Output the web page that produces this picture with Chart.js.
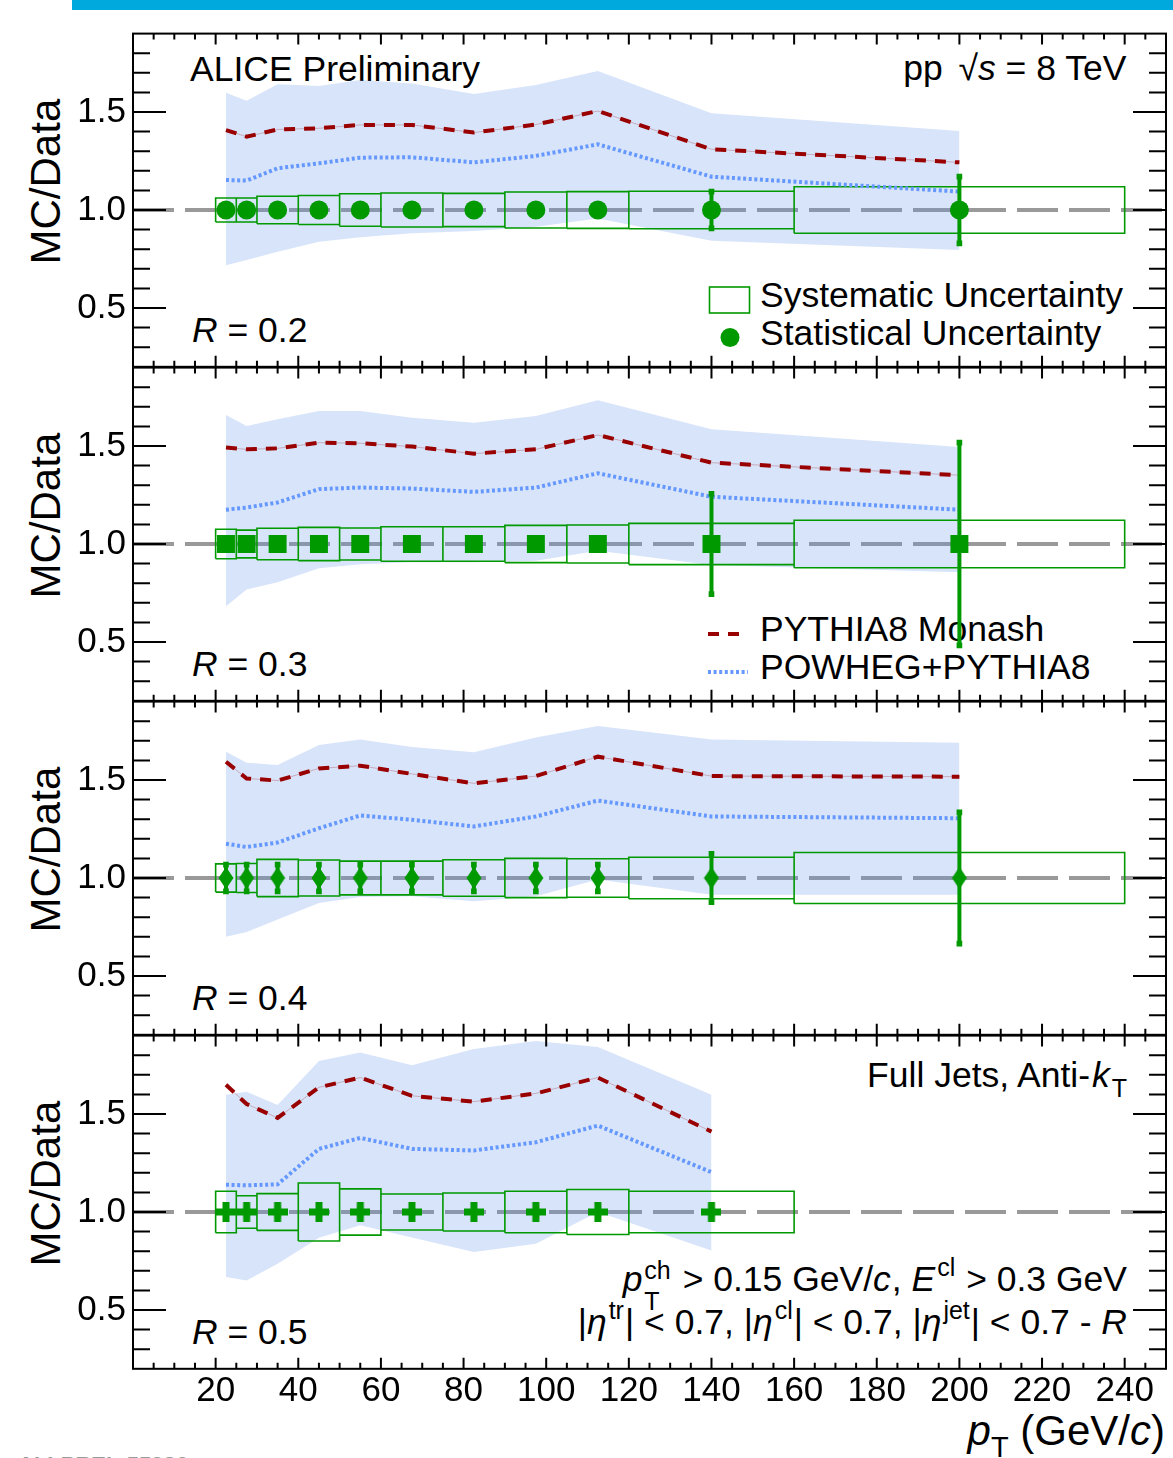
<!DOCTYPE html>
<html>
<head>
<meta charset="utf-8">
<script src="https://cdn.jsdelivr.net/npm/chart.js@4.4.0/dist/chart.umd.min.js"></script>
<style>
html,body{margin:0;padding:0;background:#fff;width:1173px;height:1458px;overflow:hidden;}
#wrap{position:relative;width:1173px;height:1458px;}
canvas{position:absolute;left:0;top:0;}
#txt{position:absolute;left:0;top:0;white-space:pre;}
#bar{position:absolute;left:72px;top:0;width:1101px;height:10px;background:#00a9dd;}
</style>
</head>
<body>
<div id="wrap">
<div id="bar"></div>
<svg id="txt" width="1173" height="1458" xmlns="http://www.w3.org/2000/svg"></svg>
<canvas id="c0" width="1173" height="1458"></canvas>
<canvas id="c1" width="1173" height="1458"></canvas>
<canvas id="c2" width="1173" height="1458"></canvas>
<canvas id="c3" width="1173" height="1458"></canvas>
</div>
<script>
// ---------------- DATA ----------------
const binLow   = [20, 25, 30, 40, 50, 60, 75, 90, 105, 120, 160];
const binHigh  = [25, 30, 40, 50, 60, 75, 90, 105, 120, 160, 240];
const ptCenter = [22.5, 27.5, 35, 45, 55, 67.5, 82.5, 97.5, 112.5, 140, 200];
const xTickValues = [20, 40, 60, 80, 100, 120, 140, 160, 180, 200, 220, 240];
const yTickValues = [0.5, 1.0, 1.5];

// R = 0.2
const ratioR02  = [1, 1, 1, 1, 1, 1, 1, 1, 1, 1, 1];
const sysR02    = [0.061, 0.061, 0.070, 0.074, 0.083, 0.087, 0.085, 0.092, 0.094, 0.096, 0.119];
const statR02   = [0.02, 0.02, 0.02, 0.02, 0.02, 0.02, 0.02, 0.025, 0.03, 0.094, 0.17];
const pythiaR02 = [1.408, 1.374, 1.411, 1.417, 1.434, 1.434, 1.395, 1.436, 1.505, 1.310, 1.243];
const powhegR02 = [1.153, 1.150, 1.213, 1.238, 1.267, 1.269, 1.243, 1.276, 1.335, 1.170, 1.094];
const bandHiR02 = [1.598, 1.558, 1.641, 1.633, 1.663, 1.646, 1.592, 1.638, 1.709, 1.493, 1.403];
const bandLoR02 = [0.718, 0.745, 0.787, 0.838, 0.861, 0.881, 0.893, 0.915, 0.957, 0.843, 0.796];

// R = 0.3
const ratioR03  = [1, 1, 1, 1, 1, 1, 1, 1, 1, 1, 1];
const sysR03    = [0.075, 0.071, 0.080, 0.085, 0.082, 0.088, 0.088, 0.095, 0.097, 0.105, 0.121];
const statR03   = [0.02, 0.02, 0.02, 0.02, 0.02, 0.02, 0.02, 0.025, 0.03, 0.256, 0.517];
const pythiaR03 = [1.492, 1.483, 1.488, 1.517, 1.514, 1.497, 1.461, 1.483, 1.556, 1.415, 1.351];
const powhegR03 = [1.175, 1.186, 1.212, 1.280, 1.288, 1.283, 1.266, 1.288, 1.361, 1.241, 1.175];
const bandHiR03 = [1.658, 1.602, 1.636, 1.678, 1.678, 1.644, 1.619, 1.653, 1.734, 1.585, 1.495];
const bandLoR03 = [0.683, 0.768, 0.805, 0.876, 0.897, 0.907, 0.907, 0.915, 0.966, 0.893, 0.856];

// R = 0.4
const ratioR04  = [1, 1, 1, 1, 1, 1, 1, 1, 1, 1, 1];
const sysR04    = [0.072, 0.074, 0.095, 0.092, 0.086, 0.086, 0.093, 0.100, 0.098, 0.106, 0.130];
const statR04   = [0.068, 0.068, 0.068, 0.068, 0.068, 0.068, 0.068, 0.068, 0.068, 0.123, 0.335];
const pythiaR04 = [1.593, 1.508, 1.497, 1.559, 1.573, 1.531, 1.483, 1.520, 1.619, 1.520, 1.517];
const powhegR04 = [1.175, 1.158, 1.181, 1.254, 1.319, 1.297, 1.263, 1.314, 1.395, 1.314, 1.305];
const bandHiR04 = [1.644, 1.588, 1.576, 1.678, 1.707, 1.669, 1.642, 1.717, 1.776, 1.707, 1.690];
const bandLoR04 = [0.700, 0.724, 0.788, 0.873, 0.903, 0.907, 0.881, 0.907, 0.992, 0.915, 0.915];

// R = 0.5
const ratioR05  = [1, 1, 1, 1, 1, 1, 1, 1, 1, 1];
const sysR05    = [0.106, 0.083, 0.094, 0.148, 0.118, 0.092, 0.097, 0.106, 0.115, 0.106];
const statR05   = [0.02, 0.02, 0.02, 0.02, 0.02, 0.02, 0.02, 0.02, 0.025, 0.03];
const pythiaR05 = [1.649, 1.551, 1.480, 1.636, 1.686, 1.593, 1.563, 1.605, 1.686, 1.410];
const powhegR05 = [1.139, 1.136, 1.141, 1.322, 1.378, 1.322, 1.314, 1.356, 1.441, 1.203];
const bandHiR05 = [1.598, 1.614, 1.546, 1.771, 1.814, 1.749, 1.831, 1.873, 1.842, 1.598];
const bandLoR05 = [0.668, 0.651, 0.736, 0.869, 0.932, 0.870, 0.796, 0.838, 1.000, 0.804];

const radiusLabels = ['0.2', '0.3', '0.4', '0.5'];
const markerKinds  = ['circle', 'square', 'diamond', 'cross'];

const panels = [
  {R: radiusLabels[0], marker: markerKinds[0], ratio: ratioR02, sys: sysR02, stat: statR02, pythia: pythiaR02, powheg: powhegR02, hi: bandHiR02, lo: bandLoR02},
  {R: radiusLabels[1], marker: markerKinds[1], ratio: ratioR03, sys: sysR03, stat: statR03, pythia: pythiaR03, powheg: powhegR03, hi: bandHiR03, lo: bandLoR03},
  {R: radiusLabels[2], marker: markerKinds[2], ratio: ratioR04, sys: sysR04, stat: statR04, pythia: pythiaR04, powheg: powhegR04, hi: bandHiR04, lo: bandLoR04},
  {R: radiusLabels[3], marker: markerKinds[3], ratio: ratioR05, sys: sysR05, stat: statR05, pythia: pythiaR05, powheg: powhegR05, hi: bandHiR05, lo: bandLoR05}
];

// ---------------- STYLE / LAYOUT ----------------
const X_MIN = 0, X_MAX = 250, Y_MIN = 0.2, Y_MAX = 1.9, REF = 1.0;
const PANEL_TOP = [33.6, 367.6, 701.6, 1035.6];
const PANEL_H = 333.2;
const PAGE_H = 1458;
const FONT = '"Liberation Sans", Arial, Helvetica, sans-serif';
const GREEN = '#009900';
const RED = '#990000';
const BLUE = '#6699ff';
const BAND = 'rgba(100,149,237,0.25)';

function makeMarker(kind) {
  if (kind === 'circle') return {style: 'circle', radius: 9.5};
  if (kind === 'square') return {style: 'rect', radius: 12.7};
  const c = document.createElement('canvas');
  const g = c.getContext('2d');
  if (kind === 'diamond') {
    c.width = 16; c.height = 22;
    g.fillStyle = GREEN;
    g.beginPath(); g.moveTo(8, 0); g.lineTo(15.5, 11); g.lineTo(8, 22); g.lineTo(0.5, 11); g.closePath(); g.fill();
  } else {
    c.width = 20; c.height = 20;
    g.fillStyle = GREEN;
    g.fillRect(0, 6.5, 20, 7); g.fillRect(6.5, 0, 7, 20);
  }
  return {style: c, radius: 10};
}

const framePlugin = {
  id: 'rootFrame',
  afterDraw(chart) {
    const {ctx, chartArea: a, scales: {x, y}} = chart;
    ctx.save();
    ctx.strokeStyle = '#000';
    ctx.lineWidth = 2;
    ctx.beginPath();
    const nMin = Math.round(y.min * 10), nMax = Math.round(y.max * 10);
    for (let k = nMin + 1; k < nMax; k++) {
      const v = k / 10;
      const py = y.getPixelForValue(v);
      const major = yTickValues.some(t => Math.abs(t - v) < 1e-6);
      const L = major ? 33 : 17;
      ctx.moveTo(a.left, py); ctx.lineTo(a.left + L, py);
      ctx.moveTo(a.right, py); ctx.lineTo(a.right - L, py);
    }
    for (let v = 5; v < x.max; v += 5) {
      const px = x.getPixelForValue(v);
      const major = xTickValues.includes(v);
      const L = major ? 11 : 6;
      ctx.moveTo(px, a.top); ctx.lineTo(px, a.top + L);
      ctx.moveTo(px, a.bottom); ctx.lineTo(px, a.bottom - L);
    }
    ctx.stroke();
    ctx.strokeRect(a.left, a.top, a.right - a.left, a.bottom - a.top);
    ctx.restore();
  }
};

function buildPanel(i) {
  const P = panels[i];
  const n = P.ratio.length;
  const isBottom = i === panels.length - 1;
  const xAxisH = isBottom ? 60 : 0;
  const padTop = PANEL_TOP[i];
  const padBottom = PAGE_H - (PANEL_TOP[i] + PANEL_H) - xAxisH;
  const cx = ptCenter.slice(0, n);
  const series = arr => cx.map((x, k) => ({x: x, y: arr[k]}));

  const boxPts = [];
  for (let k = 0; k < n; k++) {
    const lo = P.ratio[k] - P.sys[k], hi = P.ratio[k] + P.sys[k];
    boxPts.push({x: binLow[k], y: lo}, {x: binHigh[k], y: lo}, {x: binHigh[k], y: hi},
                {x: binLow[k], y: hi}, {x: binLow[k], y: lo}, {x: binLow[k], y: null});
  }
  const errPts = [];
  for (let k = 0; k < n; k++) {
    errPts.push({x: cx[k], y: P.ratio[k] - P.stat[k]}, {x: cx[k], y: P.ratio[k] + P.stat[k]}, {x: cx[k], y: null});
  }
  const mk = makeMarker(P.marker);
  const line = (extra) => Object.assign({showLine: true, pointRadius: 0, tension: 0, fill: false}, extra);

  const datasets = [
    line({label: 'ref', data: [{x: X_MIN, y: REF}, {x: X_MAX, y: REF}], borderColor: '#999999', borderWidth: 4, borderDash: [41, 11], order: 9}),
    line({label: 'bandHi', data: series(P.hi), borderWidth: 0, borderColor: 'rgba(0,0,0,0)', backgroundColor: BAND, fill: '+1', order: 6}),
    line({label: 'bandLo', data: series(P.lo), borderWidth: 0, borderColor: 'rgba(0,0,0,0)', order: 7}),
    line({label: 'sys', data: boxPts, borderColor: GREEN, borderWidth: 1.6, borderJoinStyle: 'miter', spanGaps: false, order: 5}),
    line({label: 'pythiaThin', data: series(P.pythia), borderColor: 'rgba(153,0,0,0.25)', borderWidth: 1, order: 4}),
    line({label: 'PYTHIA8 Monash', data: series(P.pythia), borderColor: RED, borderWidth: 4, borderDash: [11, 9], borderCapStyle: 'butt', order: 3}),
    line({label: 'POWHEG+PYTHIA8', data: series(P.powheg), borderColor: BLUE, borderWidth: 4, borderDash: [3, 2.6], borderCapStyle: 'butt', order: 3}),
    {label: 'stat', data: errPts, showLine: true, spanGaps: false, borderColor: GREEN, borderWidth: 4,
     pointStyle: 'rect', pointRadius: 4, pointBackgroundColor: GREEN, pointBorderWidth: 0, order: 2},
    {label: 'data', data: series(P.ratio), showLine: false, pointStyle: mk.style, pointRadius: mk.radius,
     pointBackgroundColor: GREEN, pointBorderColor: GREEN, pointBorderWidth: 0, order: 1}
  ];

  new Chart(document.getElementById('c' + i), {
    type: 'scatter',
    data: {datasets: datasets},
    options: {
      responsive: false,
      animation: false,
      devicePixelRatio: 1,
      events: [],
      layout: {autoPadding: false, padding: {top: padTop, bottom: padBottom, left: 0, right: 7}},
      plugins: {legend: {display: false}, tooltip: {enabled: false}},
      scales: {
        x: {
          type: 'linear', min: X_MIN, max: X_MAX,
          afterBuildTicks: s => { s.ticks = xTickValues.map(v => ({value: v})); },
          afterFit: s => { s.height = xAxisH; },
          grid: {display: false, drawTicks: false},
          border: {display: false},
          ticks: {display: isBottom, autoSkip: false, maxRotation: 0, padding: 2, color: '#000',
                  font: {family: FONT, size: 35}}
        },
        y: {
          type: 'linear', min: Y_MIN, max: Y_MAX,
          afterBuildTicks: s => { s.ticks = yTickValues.map(v => ({value: v})); },
          afterFit: s => { s.width = 133; },
          grid: {display: false, drawTicks: false},
          border: {display: false},
          ticks: {padding: 7, color: '#000', font: {family: FONT, size: 35},
                  callback: v => Number(v).toFixed(1)}
        }
      }
    },
    plugins: [framePlugin]
  });
}

// ---------------- TEXT (SVG) ----------------
const SVGNS = 'http://www.w3.org/2000/svg';
const svg = document.getElementById('txt');
const mctx = document.createElement('canvas').getContext('2d');
function fontStr(it, sz) { return (it ? 'italic ' : '') + sz + 'px "Liberation Sans"'; }
function addText(str, x, y, sz, it, extra) {
  const t = document.createElementNS(SVGNS, 'text');
  t.setAttribute('x', x); t.setAttribute('y', y);
  t.setAttribute('font-family', FONT);
  t.setAttribute('font-size', sz);
  if (it) t.setAttribute('font-style', 'italic');
  t.setAttribute('fill', (extra && extra.fill) || '#000');
  if (extra && extra.anchor) t.setAttribute('text-anchor', extra.anchor);
  if (extra && extra.transform) t.setAttribute('transform', extra.transform);
  if (extra && extra.weight) t.setAttribute('font-weight', extra.weight);
  t.setAttributeNS('http://www.w3.org/XML/1998/namespace', 'xml:space', 'preserve');
  t.textContent = str;
  svg.appendChild(t);
  return t;
}
function rich(segs, x, y, anchor, base) {
  const items = [];
  let cursor = 0;
  segs.forEach(s => {
    const sz = s.sz || base;
    mctx.font = fontStr(s.it, sz);
    const w = s.gap ? s.gap : mctx.measureText(s.t).width;
    if (s.stack && items.length) {
      const prev = items[items.length - 1];
      items.push({s: s, sz: sz, x: prev.x, w: w});
      cursor = Math.max(prev.x + prev.w, prev.x + w);
    } else {
      items.push({s: s, sz: sz, x: cursor, w: w});
      cursor += w;
    }
  });
  const x0 = anchor === 'end' ? x - cursor : x;
  items.forEach(it => { if (!it.s.gap) addText(it.s.t, x0 + it.x, y + (it.s.dy || 0), it.sz, it.s.it); });
}
function addShape(tag, attrs) {
  const e = document.createElementNS(SVGNS, tag);
  Object.keys(attrs).forEach(k => e.setAttribute(k, attrs[k]));
  svg.appendChild(e);
}

const BASE = 35.5;
const SUB = 25;
rich([{t: 'ALICE Preliminary'}], 190, 80.5, 'start', BASE);
rich([{t: 'pp '}, {gap: 6, t: ''}, {t: '\u221A'}, {t: 's', it: true}, {t: ' = 8 TeV'}], 1127, 80, 'end', BASE);

// legends
addShape('rect', {x: 709.5, y: 287, width: 40, height: 26, fill: 'none', stroke: GREEN, 'stroke-width': 1.6});
addShape('circle', {cx: 730, cy: 337.5, r: 9.5, fill: GREEN});
rich([{t: 'Systematic Uncertainty'}], 760, 307, 'start', BASE);
rich([{t: 'Statistical Uncertainty'}], 760, 345, 'start', BASE);
addShape('line', {x1: 708, y1: 634, x2: 744, y2: 634, stroke: RED, 'stroke-width': 4, 'stroke-dasharray': '11 9'});
addShape('line', {x1: 708, y1: 672, x2: 748, y2: 672, stroke: BLUE, 'stroke-width': 4, 'stroke-dasharray': '3 2.6'});
rich([{t: 'PYTHIA8 Monash'}], 760, 641, 'start', BASE);
rich([{t: 'POWHEG+PYTHIA8'}], 760, 679, 'start', BASE);

// R labels and y titles
panels.forEach((P, i) => {
  rich([{t: 'R', it: true}, {t: ' = ' + P.R}], 192, PANEL_TOP[i] + 308.5, 'start', BASE);
  addText('MC/Data', 0, 0, 42, false, {anchor: 'middle', transform: 'translate(60,' + (PANEL_TOP[i] + 148) + ') rotate(-90)'});
});

// panel 4 texts
rich([{t: 'Full Jets, Anti-'}, {t: 'k', it: true}, {gap: 2, t: ''}, {t: 'T', sz: SUB, dy: 10}], 1127, 1087, 'end', BASE);
rich([{t: 'p', it: true}, {gap: 2, t: ''}, {t: 'ch', sz: SUB, dy: -12}, {t: 'T', sz: SUB, dy: 19, stack: true}, {gap: 2, t: ''},
      {t: ' > 0.15 GeV/'}, {t: 'c', it: true}, {gap: 1, t: ''}, {t: ', '}, {t: 'E', it: true}, {gap: 2, t: ''}, {t: 'cl', sz: SUB, dy: -15},
      {gap: 1, t: ''}, {t: ' > 0.3 GeV'}], 1127, 1290.5, 'end', BASE);
rich([{t: '|'}, {t: '\u03B7', it: true}, {gap: 2, t: ''}, {t: 'tr', sz: SUB, dy: -15}, {gap: 1, t: ''}, {t: '| < 0.7, |'},
      {t: '\u03B7', it: true}, {gap: 2, t: ''}, {t: 'cl', sz: SUB, dy: -15}, {gap: 1, t: ''}, {t: '| < 0.7, |'},
      {t: '\u03B7', it: true}, {gap: 2, t: ''}, {t: 'jet', sz: SUB, dy: -15}, {gap: 1, t: ''}, {t: '| < 0.7 - '}, {t: 'R', it: true}], 1127, 1334, 'end', BASE);

// x title
rich([{t: 'p', it: true}, {t: 'T', sz: 29, dy: 12}, {t: ' (GeV/'}, {t: 'c', it: true}, {t: ')'}], 1165, 1445, 'end', 42);

// preliminary id (cut at page bottom)
addText('ALI-PREL-55936', 18, 1472, 22, false, {fill: '#9a9a9a', weight: 'bold'});

panels.forEach((P, i) => buildPanel(i));
</script>
</body>
</html>
